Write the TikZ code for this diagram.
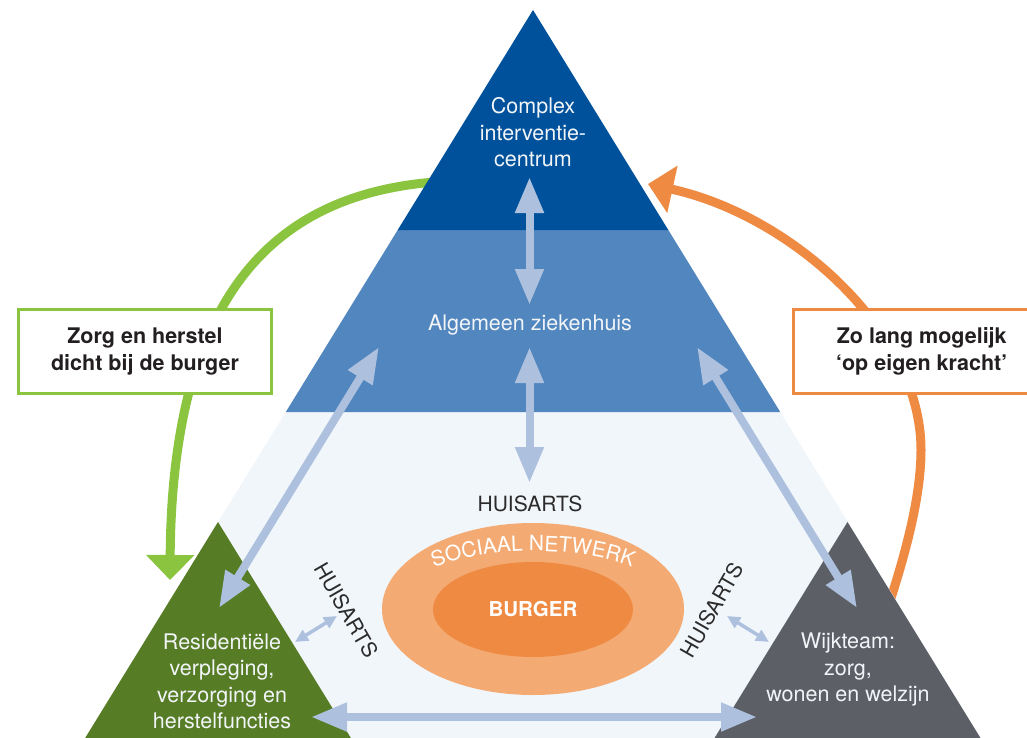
\documentclass[tikz,border=0pt]{standalone}
\usepackage{fontspec}
\setmainfont{TeX Gyre Heros}
\usetikzlibrary{arrows.meta,decorations.text}

\definecolor{topblue}{HTML}{00519B}
\definecolor{midblue}{HTML}{5186BE}
\definecolor{paleblue}{HTML}{F1F6FB}
\definecolor{careGreen}{HTML}{577C26}
\definecolor{teamGray}{HTML}{5D5F66}
\definecolor{greenline}{HTML}{8BC53F}
\definecolor{orangeline}{HTML}{EF8A43}
\definecolor{outerorange}{HTML}{F4AA73}
\definecolor{innerorange}{HTML}{EF8A43}
\definecolor{linkblue}{HTML}{ADC1DF}
\definecolor{darktext}{HTML}{2B2B2B}
\definecolor{boxtext}{HTML}{231F20}
\definecolor{softwhite}{HTML}{F2F5F8}

\begin{document}
\begin{tikzpicture}[x=1pt,y=-1pt,
  lbl/.style={font=\fontsize{21.5}{26.5}\selectfont, align=center, text=softwhite, inner sep=0pt},
  dark/.style={font=\fontsize{21}{26.5}\selectfont, text=darktext, inner sep=0pt},
  link/.style={draw=linkblue, line width=8pt,
    {Triangle[length=36pt,width=27pt]}-{Triangle[length=36pt,width=27pt]}},
  minilink/.style={draw=linkblue, line width=3.5pt,
    {Triangle[length=13pt,width=12pt]}-{Triangle[length=13pt,width=12pt]}},
  flow/.style={line width=9pt, -{Triangle[length=25pt,width=47pt]}},
  callout/.style={draw, line width=3pt, fill=white, minimum width=253pt,
    minimum height=84pt, inner sep=0pt, align=center,
    font=\bfseries\fontsize{21.5}{26.5}\selectfont, text=boxtext}
]
\clip (0,0) rectangle (1027,738);
\fill[white] (0,0) rectangle (1027,738);

% curved flows (behind the pyramid)
\coordinate (gStart) at (435,182);
\coordinate (gEnd) at (170,580);
\coordinate (oStart) at (891,598);
\coordinate (oMid) at (921,450);
\coordinate (oEnd) at (648,184);
\draw[flow, draw=greenline] (gStart) .. controls (270,195) and (172,300) .. (gEnd);
\draw[flow, draw=orangeline] (oStart) .. controls (903,560) and (921,500) .. (oMid)
  .. controls (921,330) and (790,215) .. (oEnd);

% pyramid: pale base, middle band, top
\fill[paleblue] (285.8,412) -- (780.2,412) -- (994.25,760) -- (71.75,760) -- cycle;
\fill[midblue] (397.7,230) -- (668.3,230) -- (780.2,412) -- (285.8,412) -- cycle;
\fill[topblue] (533,10) -- (668.3,230) -- (397.7,230) -- cycle;

% corner triangles
\fill[careGreen] (218,522) -- (364.4,760) -- (71.6,760) -- cycle;
\fill[teamGray] (847.5,522) -- (994,760) -- (701,760) -- cycle;

% citizen and social network
\fill[outerorange] (533,609) ellipse [x radius=151, y radius=86];
\fill[innerorange] (533,609.5) ellipse [x radius=100, y radius=47.5];
\node[font=\bfseries\fontsize{20.5}{20.5}\selectfont, text=white, inner sep=0pt] (burger) at (533,609.5) {BURGER};
\path[decorate, decoration={text along path, text align=center, text color=white,
  text={|\fontsize{21}{21}\selectfont|SOCIAAL NETWERK}}]
  (390,609) arc[start angle=180, end angle=360, x radius=143, y radius=58];

% labels
\node[lbl] (cic) at (533,132.5) {Complex\\interventie-\\centrum};
\node[lbl, anchor=base] (azh) at (530,330) {Algemeen ziekenhuis};
\node[dark, anchor=base] (haTop) at (530,511) {HUISARTS};
\node[dark, rotate=-60] (haLeft) at (346.5,610) {HUISARTS};
\node[dark, rotate=60] (haRight) at (712,610) {HUISARTS};
\node[lbl] (res) at (222,681.5) {Residentiële\\verpleging,\\verzorging en\\herstelfuncties};
\node[lbl] (wijk) at (848,669.6) {Wijkteam:\\zorg,\\wonen en welzijn};

% links between levels
\coordinate (cicLow) at (529.5,177);
\coordinate (azhHigh) at (529.5,305);
\coordinate (azhLow) at (529.5,347);
\coordinate (haHigh) at (529.5,483);
\coordinate (azhLeft) at (379,347);
\coordinate (resTop) at (219,608);
\coordinate (azhRight) at (697,347);
\coordinate (wijkTop) at (857,608);
\coordinate (resSide) at (311,717);
\coordinate (wijkSide) at (757,717);
\coordinate (resEdge) at (295,642);
\coordinate (haLeftEnd) at (337,616);
\coordinate (haRightEnd) at (727,616);
\coordinate (wijkEdge) at (769,642);
\draw[link] (cicLow) -- (azhHigh);
\draw[link] (azhLow) -- (haHigh);
\draw[link] (azhLeft) -- (resTop);
\draw[link] (azhRight) -- (wijkTop);
\draw[link] (resSide) -- (wijkSide);
\draw[minilink] (resEdge) -- (haLeftEnd);
\draw[minilink] (haRightEnd) -- (wijkEdge);

% call-out boxes
\node[callout, draw=greenline] (zorg) at (145,351.5) {Zorg en herstel\\dicht bij de burger};
\node[callout, draw=orangeline, minimum width=256.5pt] (kracht) at (921.75,351.5) {Zo lang mogelijk\\‘op eigen kracht’};
\end{tikzpicture}
\end{document}
